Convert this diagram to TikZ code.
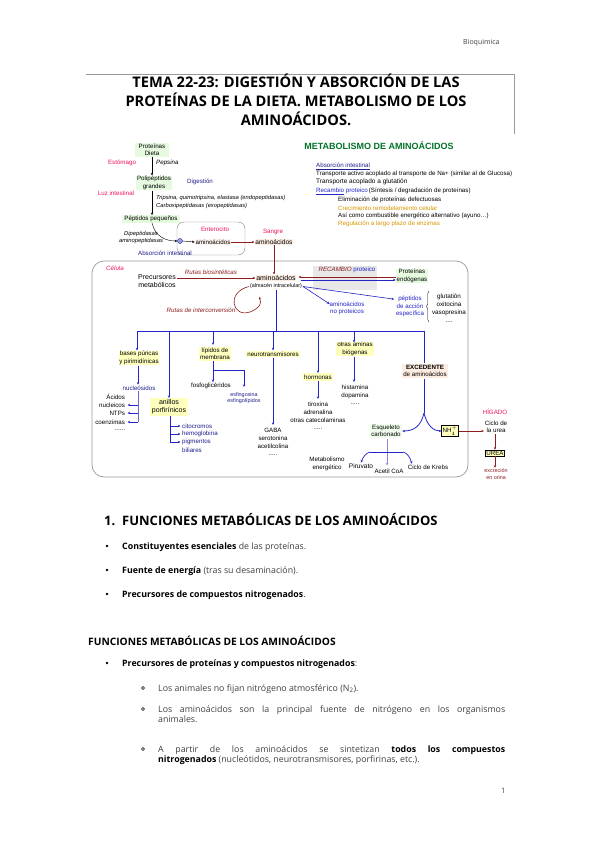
\documentclass[tikz,border=0pt]{standalone}
\usepackage{fontspec}
\setmainfont{Open Sans}
\newfontfamily\dfont{Liberation Sans}
\usetikzlibrary{arrows.meta,decorations.pathreplacing}
\definecolor{lblue}{RGB}{35,35,200}
\definecolor{nblue}{RGB}{30,30,140}
\definecolor{dred}{RGB}{140,30,30}
\definecolor{gfill}{RGB}{230,250,224}
\definecolor{yfill}{RGB}{255,255,190}
\definecolor{pfill}{RGB}{253,236,226}
\definecolor{pinkred}{RGB}{240,20,90}
\definecolor{dgreen}{RGB}{0,115,40}
\definecolor{orng}{RGB}{215,150,0}
\definecolor{bodygray}{RGB}{64,64,64}
\newcommand\dsz{\dfont\fontsize{6.2}{7.4}\selectfont}
\newcommand\dsm{\dfont\fontsize{5.4}{6.4}\selectfont}
\newcommand\dbg{\dfont\fontsize{7}{8}\selectfont}
\tikzset{
  dt/.style={font=\dsz, inner sep=0.8pt, align=center},
  dl/.style={font=\dsz, inner sep=0pt, anchor=west},
  tip/.style={-{Stealth[length=2.6pt,width=2.4pt]}},
  karr/.style={draw=black, line width=0.4pt, tip},
  bl/.style={draw=lblue, line width=0.7pt},
  barr/.style={bl, tip},
  rarr/.style={draw=dred, line width=0.6pt, tip},
  btxt/.style={font=\fontsize{8.8}{10}\selectfont, inner sep=0pt, anchor=base west, text=bodygray},
}
\begin{document}
\begin{tikzpicture}[x=1pt,y=-1pt]
\useasboundingbox[fill=white] (0,0) rectangle (599,848);
% header
\node[font=\fontsize{7}{8}\selectfont, text=bodygray, anchor=west, inner sep=0] (hdr) at (463,43) {Bioquimica};
% title frame
\coordinate (tf1) at (86,74); \coordinate (tf2) at (514,74); \coordinate (tf3) at (514,134);
\draw[gray!80, line width=0.6pt] (tf1) -- (tf2) -- (tf3);
\node[font=\bfseries\fontsize{14.6}{18.8}\selectfont, align=center, inner sep=0] (title) at (296,100)
  {TEMA 22-23: DIGESTIÓN Y ABSORCIÓN DE LAS\\PROTEÍNAS DE LA DIETA. METABOLISMO DE LOS\\AMINOÁCIDOS.};

% ---------- digestion ----------
\node[dt, fill=gfill, minimum width=34pt] (prot) at (152,150) {Proteínas\\Dieta};
\node[dt, text=pinkred] (est) at (122,163) {Estómago};
\node[dl, font=\dsz\itshape] (peps) at (156,163) {Pepsina};
\node[dt, fill=gfill, minimum width=36pt] (polip) at (154,183) {Polipéptidos\\grandes};
\draw[karr] (prot.south) -- (prot.south |- polip.north);
\node[dt, text=nblue] (dig) at (200,182) {Digestión};
\node[dt, text=pinkred] (luz) at (116,193) {Luz intestinal};
\node[dl, font=\dfont\itshape\fontsize{5.8}{7}\selectfont] (trip) at (156,198) {Tripsina, quimotripsina, elastasa (endopeptidasas)};
\node[dl, font=\dfont\itshape\fontsize{5.8}{7}\selectfont] (carb) at (156,206) {Carboxipeptidasas (exopeptidasas)};
\node[dt, fill=gfill, minimum width=58pt] (pp) at (151,219) {Péptidos pequeños};
\draw[karr] (polip.south -| prot.south) -- (prot.south |- pp.north);
\node[dt, font=\dfont\itshape\fontsize{5.8}{7}\selectfont] (dipep) at (141,237) {Dipeptidasas\\aminopeptidasas};
\node[draw=gray, rounded corners=7pt, minimum width=68pt, minimum height=33pt, inner sep=0] (ent) at (211,238.5) {};
\node[dt, text=pinkred] (entl) at (215,229) {Enterocito};
\node[dt, fill=pfill!60] (aaent) at (213,242) {aminoácidos};
\node[circle, draw=nblue, fill=lblue!45, inner sep=0, minimum size=5pt] (circ) at (180,241) {};
\draw[karr] (pp.south -| prot.south) .. controls (155,236) and (165,241) .. (circ.west);
\draw[karr] (circ.east) -- (aaent.west);
\node[dt, text=pinkred] (sang) at (273,232) {Sangre};
\node[dt, fill=pfill, font=\dfont\fontsize{6.6}{7.4}\selectfont] (aasan) at (274,242) {aminoácidos};
\draw[rarr] (aaent.east) -- (aasan.west);
\node[dt, text=nblue] (absi) at (165,253) {Absorción intestinal};

% ---------- metabolismo text ----------
\node[font=\dfont\bfseries\fontsize{9}{10}\selectfont, text=dgreen, inner sep=0] (mtit) at (379,146) {METABOLISMO DE AMINOÁCIDOS};
\node[dl, text=nblue] (m1) at (316,166) {\underline{Absorción intestinal}};
\node[dl] (m2) at (316,173.5) {Transporte activo acoplado al transporte de Na+ (similar al de Glucosa)};
\node[dl, font=\dfont\fontsize{6.5}{7.4}\selectfont] (m3) at (316,182) {Transporte acoplado a glutatión};
\node[dl] (m4) at (316,191) {\textcolor{lblue}{\underline{Recambio} proteico}\,(Síntesis / degradación de proteínas)};
\node[dl] (m5) at (338,200) {Eliminación de proteínas defectuosas};
\node[dl, text=orng] (m6) at (338,208) {Crecimiento remodelamiento celular};
\node[dl] (m7) at (338,216) {Así como combustible energético alternativo (ayuno\dots)};
\node[dl, text=orng] (m8) at (338,224) {Regulación a largo plazo de enzimas};

% ---------- cell ----------
\draw[gray!80, line width=0.7pt, rounded corners=12pt] (92,261) rectangle (468,477);
\node[dt, text=pinkred, font=\dsz\itshape] (cel) at (115,268) {Célula};
\node[dt, font=\dbg] (prec) at (157,281) {Precursores\\metabólicos};
\node[dt, fill=pfill, font=\dbg] (aac) at (276,278) {aminoácidos};
\node[dt, font=\dsm] (alm) at (276,286.5) {(almacén intracelular)};
\draw[rarr] (aasan.south) -- (aac.north -| aasan.south);
\draw[rarr] (prec.east |- aac.west) -- (aac.west);
\node[dt, text=dred, font=\dsz\itshape] (rbio) at (211,272) {Rutas biosintéticas};
\draw[rarr] (alm.west) .. controls (226,292) and (232,318) .. (250,312) .. controls (260,308) and (262,303) .. (259,297);
\node[dt, text=dred, font=\dsz\itshape] (rint) at (201,310) {Rutas de interconversión};
% recambio
\node[fill=gray!18, minimum width=64pt, minimum height=24pt, inner sep=0] (rec) at (345,278) {};
\node[dt] (recl) at (347,270) {\textcolor{dred}{\itshape RECAMBIO} \textcolor{lblue}{proteico}};
\node[dt, fill=gfill] (pend) at (412,276) {Proteínas\\endógenas};
\draw[rarr] ([yshift=-1pt]pend.west) -- ([xshift=2pt,yshift=1pt]aac.east);
\draw[bl, line width=0.6pt, tip] ([xshift=4pt,yshift=-2pt]aac.east) -- ([yshift=-4pt]pend.west);
\node[dt, text=lblue] (anp) at (347,308.5) {aminoácidos\\no proteicos};
\node[dt, text=lblue] (pep) at (410,306.5) {péptidos\\de acción\\específica};
\draw[barr, line width=0.6pt] (alm.east) -- ([xshift=1pt,yshift=-3pt]anp.north west);
\draw[barr, line width=0.6pt] (alm.east) -- ([xshift=-1pt,yshift=-4pt]pep.north west);
\draw[line width=0.4pt, decorate, decoration={brace, amplitude=2.5pt}] (429,322) -- (429,291);
\node[dt, font=\dfont\fontsize{6.3}{7.8}\selectfont] (glu) at (449,308) {glutatión\\oxitocina\\vasopresina\\....};

% ---------- bus ----------
\coordinate (bL) at (137,331);
\coordinate (bR) at (424,331);
\draw[bl] (bL) -- (bR);
\draw[bl] (alm.south) -- (alm.south |- bL);
\node[dt, fill=yfill] (bases) at (139,358) {bases púricas\\y pirimidínicas};
\node[dt, fill=yfill, font=\dbg, inner sep=1.5pt] (porf) at (169,407) {anillos\\porfirínicos};
\node[dt, fill=yfill] (lip) at (215,354) {lípidos de\\membrana};
\node[dt, fill=yfill, inner sep=1.2pt] (neuro) at (273,354) {neurotransmisores};
\node[dt, fill=yfill, inner sep=1.5pt] (horm) at (318,377) {hormonas};
\node[dt, fill=yfill] (amin) at (355,349) {otras aminas\\biógenas};
\node[dt, fill=pfill, inner sep=1.5pt] (exc) at (425,371) {\textbf{EXCEDENTE}\\de aminoácidos};
\draw[barr] (bL) -- (bL |- bases.north);
\draw[barr] (porf.north |- bL) -- (porf.north);
\draw[barr] (213,331) -- (213,345);
\draw[barr] (neuro.north |- bL) -- (neuro.north);
\draw[barr] (318,331) -- (horm.north -| 318,0);
\draw[barr] (354,331) -- (354,342.5);
\draw[bl] (bR) -- (exc.north -| bR);

% bases branch
\node[dt, text=nblue] (nuc) at (139,388) {nucleósidos};
\draw[barr, line width=0.6pt] (bases.south -| 138,0) -- (nuc.north -| 138,0);
\draw[bl, line width=0.5pt, lblue!70] (nuc.south -| 138,0) -- (138,422);
\foreach \yy in {405,413,422} { \draw[barr, line width=0.6pt] (138,\yy) -- (127.5,\yy); }
\node[dt, anchor=east] (t1) at (126,397) {Ácidos};
\node[dt, anchor=east] (t2) at (126,405) {nucleicos};
\node[dt, anchor=east] (t3) at (126,413) {NTPs};
\node[dt, anchor=east] (t4) at (126,422) {coenzimas};
\node[dt, anchor=east] (t5) at (126,430) {......};
% porfirin branch
\draw[bl, line width=0.6pt] (porf.south -| 170,0) -- (170,442);
\foreach \yy in {426,434,442} { \draw[barr, line width=0.6pt] (170,\yy) -- (180.5,\yy); }
\node[dl, text=nblue] (c1) at (182,426) {citocromos};
\node[dl, text=nblue] (c2) at (182,434) {hemoglobina};
\node[dl, text=nblue] (c3) at (182,442) {pigmentos};
\node[dl, text=nblue] (c4) at (182,450) {biliares};
% lipid branch
\coordinate (lj) at (213,370);
\coordinate (lk) at (244,370);
\draw[bl] (lip.south -| lj) -- (lj) -- (lk);
\node[dt] (fosf) at (211,386) {fosfoglicéridos};
\node[dt, text=nblue, font=\dsm] (esf) at (244,398) {esfingosina\\esfingolípidos};
\draw[barr] (lj) -- (lj |- fosf.north);
\draw[barr] (lk) -- (244,387);
% neuro branch
\draw[barr] (neuro.south) -- (273,425);
\node[dt] (n1) at (273,430) {GABA};
\node[dt] (n2) at (273,438) {serotonina};
\node[dt] (n3) at (273,446) {acetilcolina};
\node[dt] (n4) at (273,455) {.....};
% hormones
\draw[barr] (horm.south) -- (318,399);
\node[dt] (h1) at (318,404) {tiroxina};
\node[dt] (h2) at (318,412) {adrenalina};
\node[dt] (h3) at (318,420) {otras catecolaminas};
\node[dt] (h4) at (318,429) {.....};
% aminas
\draw[barr] (amin.south -| 354,0) -- (354,382);
\node[dt] (a1) at (355,387) {histamina};
\node[dt] (a2) at (355,396) {dopamina};
\node[dt] (a3) at (355,404) {.....};
% excedente
\node[dt, fill=gfill!60, inner sep=1.5pt] (esq) at (386,431) {Esqueleto\\carbonado};
\node[dt, fill=yfill, draw=black, line width=0.5pt, inner sep=1pt] (nh4) at (450,431) {NH$_4^+$};
\coordinate (ex1) at (424,413);
\draw[bl, line width=0.8pt] (exc.south -| ex1) -- (ex1);
\draw[barr, line width=0.8pt] (ex1) .. controls (421,426) and (414,431) .. (esq.east);
\draw[barr, line width=0.8pt] (ex1) .. controls (427,426) and (434,431) .. (nh4.west);
\node[dt, text=pinkred] (hig) at (495,412) {HÍGADO};
\node[dt] (cu) at (496,427) {Ciclo de\\la urea};
\draw[rarr] (nh4.east) -- (cu.west |- nh4.east);
\node[dt, fill=yfill, draw=black, line width=0.4pt, inner sep=1pt] (urea) at (495,453) {UREA};
\draw[rarr] (cu.south -| urea.north) -- (urea.north);
\node[dt, text=dred, font=\dsm] (exr) at (496,474) {excreción\\en orina};
\draw[rarr] (urea.south) -- (exr.north -| urea.south);
% esqueleto
\node[dt] (metab) at (327,464) {Metabolismo\\energético};
\node[dt, font=\dfont\fontsize{6.6}{7.4}\selectfont] (piru) at (361,466) {Piruvato};
\node[dt] (acet) at (389,471) {Acetil CoA};
\node[dt] (krebs) at (428,467) {Ciclo de Krebs};
\draw[barr, lblue!55, line width=0.5pt] (esq.south -| 387,0) -- (387,465.5);
\draw[bl] (370,452) -- (403,452);
\draw[barr] (370,452) .. controls (366,453) and (363,457) .. (piru.north);
\draw[barr] (403,452) .. controls (407,453) and (410,457) .. ([xshift=5pt]krebs.north west);

% ---------- body text ----------
\node[font=\bfseries\fontsize{13}{15}\selectfont, inner sep=0, anchor=base west] (sec1) at (104,525) {1.};
\node[font=\bfseries\fontsize{13}{15}\selectfont, inner sep=0, anchor=base west] (sec1t) at (122,525) {FUNCIONES METABÓLICAS DE LOS AMINOÁCIDOS};
\foreach \yy in {549,573,597} { \fill[black] (107,\yy-3) circle (1.4pt); }
\node[btxt] (l1) at (122,549) {\textcolor{black}{\bfseries Constituyentes esenciales} de las proteínas.};
\node[btxt] (l2) at (122,573) {\textcolor{black}{\bfseries Fuente de energía} (tras su desaminación).};
\node[btxt] (l3) at (122,597) {\textcolor{black}{\bfseries Precursores de compuestos nitrogenados}.};
\node[btxt, text=black, font=\bfseries\fontsize{10.2}{12}\selectfont] (sec2) at (88,645) {FUNCIONES METABÓLICAS DE LOS AMINOÁCIDOS};
\fill[black] (107,663) circle (1.4pt);
\node[btxt] (l4) at (122,666) {\textcolor{black}{\bfseries Precursores de proteínas y compuestos nitrogenados}:};
\foreach \yy in {688,709,749} { \draw[black, line width=0.45pt] (143,\yy) circle (1.5pt); }
\node[btxt] (l5) at (158,691) {Los animales no fijan nitrógeno atmosférico (N\textsubscript{2}).};
\node[btxt] (l6) at (158,712) {\makebox[347pt][s]{Los aminoácidos son la principal fuente de nitrógeno en los organismos}};
\node[btxt] (l7) at (158,722.5) {animales.};
\node[btxt] (l8) at (158,752) {\makebox[347pt][s]{A partir de los aminoácidos se sintetizan \textcolor{black}{\bfseries todos los compuestos}}};
\node[btxt] (l9) at (158,762.5) {\textcolor{black}{\bfseries nitrogenados} (nucleótidos, neurotransmisores, porfirinas, etc.).};
\node[btxt, font=\fontsize{7.5}{9}\selectfont] (pg) at (501,793) {1};
\end{tikzpicture}
\end{document}
